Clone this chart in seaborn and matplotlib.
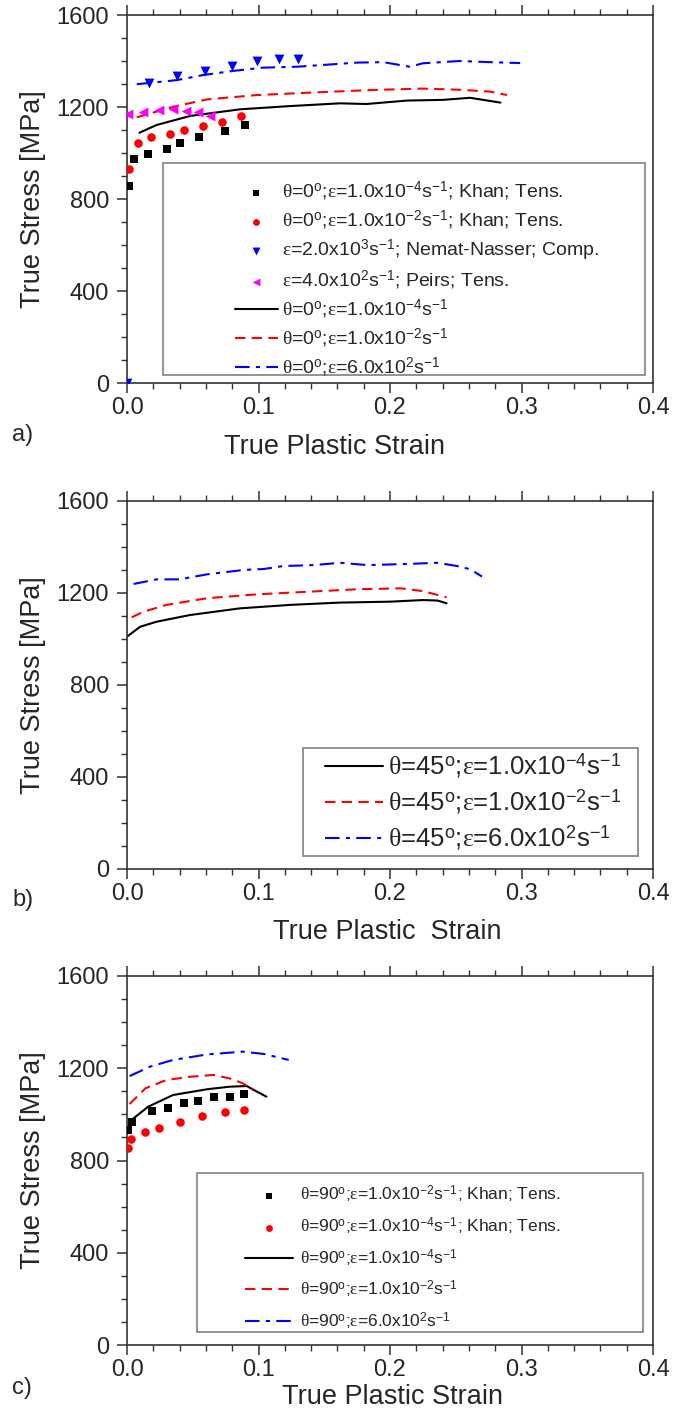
import matplotlib
matplotlib.use("Agg")
import matplotlib.pyplot as plt
from matplotlib.patches import Rectangle
from matplotlib.ticker import MultipleLocator, FormatStrFormatter
import seaborn as sns

# ---------------- Panel a data (theta = 0 deg) ----------------
a_khan4_strain = [0.0018, 0.0056, 0.0157, 0.0307, 0.040, 0.055, 0.0745, 0.090]
a_khan4_stress = [857, 973, 996, 1016, 1042, 1068, 1096, 1120]
a_khan2_strain = [0.0015, 0.008, 0.018, 0.033, 0.043, 0.058, 0.0725, 0.087]
a_khan2_stress = [929, 1045, 1068, 1081, 1100, 1117, 1136, 1161]
a_nemat_strain = [0.0, 0.017, 0.038, 0.059, 0.080, 0.099, 0.1156, 0.130]
a_nemat_stress = [0, 1303, 1335, 1358, 1380, 1401, 1407, 1407]
a_peirs_strain = [0.001, 0.0124, 0.0246, 0.035, 0.045, 0.054, 0.063]
a_peirs_stress = [1168, 1180, 1187, 1190, 1183, 1180, 1161]
a_sim4_strain = [0.0094, 0.0226, 0.048, 0.086, 0.124, 0.162, 0.182, 0.213, 0.240, 0.261, 0.284]
a_sim4_stress = [1088, 1122, 1161, 1190, 1204, 1216, 1213, 1228, 1231, 1240, 1219]
a_sim2_strain = [0.0074, 0.035, 0.061, 0.099, 0.137, 0.187, 0.225, 0.253, 0.276, 0.289]
a_sim2_stress = [1155, 1201, 1233, 1252, 1262, 1274, 1280, 1275, 1267, 1252]
a_sim6_strain = [0.0074, 0.038, 0.058, 0.081, 0.103, 0.129, 0.175, 0.195, 0.215, 0.225, 0.253, 0.276, 0.299]
a_sim6_stress = [1299, 1317, 1339, 1357, 1371, 1375, 1393, 1395, 1375, 1390, 1400, 1395, 1391]

# ---------------- Panel b data (theta = 45 deg) ----------------
b_sim4_strain = [0.0, 0.010, 0.0226, 0.048, 0.086, 0.124, 0.162, 0.200, 0.225, 0.236, 0.243]
b_sim4_stress = [1009, 1052, 1074, 1103, 1132, 1147, 1157, 1161, 1168, 1166, 1154]
b_sim2_strain = [0.0036, 0.0124, 0.030, 0.061, 0.099, 0.137, 0.175, 0.208, 0.225, 0.243]
b_sim2_stress = [1093, 1117, 1147, 1176, 1193, 1204, 1215, 1219, 1207, 1180]
b_sim6_strain = [0.005, 0.0226, 0.040, 0.061, 0.089, 0.104, 0.119, 0.142, 0.162, 0.183, 0.213, 0.236, 0.251, 0.261, 0.270]
b_sim6_stress = [1238, 1258, 1258, 1280, 1299, 1303, 1316, 1320, 1330, 1320, 1325, 1330, 1316, 1302, 1270]

# ---------------- Panel c data (theta = 90 deg) ----------------
c_khan2_strain = [0.0005, 0.004, 0.019, 0.031, 0.043, 0.054, 0.066, 0.078, 0.089]
c_khan2_stress = [932, 968, 1015, 1029, 1048, 1058, 1077, 1077, 1088]
c_khan4_strain = [0.001, 0.003, 0.0135, 0.0245, 0.040, 0.057, 0.0745, 0.089]
c_khan4_stress = [853, 892, 922, 942, 968, 993, 1009, 1019]
c_sim4_strain = [0.005, 0.016, 0.035, 0.061, 0.078, 0.091, 0.099, 0.106]
c_sim4_stress = [983, 1033, 1084, 1109, 1120, 1123, 1098, 1077]
c_sim2_strain = [0.002, 0.014, 0.030, 0.048, 0.066, 0.078, 0.088, 0.096]
c_sim2_stress = [1045, 1113, 1149, 1163, 1171, 1156, 1135, 1106]
c_sim6_strain = [0.002, 0.0175, 0.035, 0.061, 0.088, 0.104, 0.123]
c_sim6_stress = [1166, 1207, 1236, 1260, 1272, 1262, 1236]

x_ticks = [0.0, 0.1, 0.2, 0.3, 0.4]
y_ticks = [0, 400, 800, 1200, 1600]

# ---------------- labels ----------------
def lab(theta, rate_mant, rate_exp, extra=""):
    s = ""
    if theta is not None:
        s += r"$\theta$=" + theta + r"$^{\mathrm{o}}$;"
    s += r"$\varepsilon$=" + rate_mant + "x10" + r"$^{" + rate_exp + r"}$s$^{-1}$" + extra
    return s

a_labels = [lab("0", "1.0", "-4", "; Khan; Tens."),
            lab("0", "1.0", "-2", "; Khan; Tens."),
            lab(None, "2.0", "3", "; Nemat-Nasser; Comp."),
            lab(None, "4.0", "2", "; Peirs; Tens."),
            lab("0", "1.0", "-4"),
            lab("0", "1.0", "-2"),
            lab("0", "6.0", "2")]
b_labels = [lab("45", "1.0", "-4"), lab("45", "1.0", "-2"), lab("45", "6.0", "2")]
c_labels = [lab("90", "1.0", "-2", "; Khan; Tens."),
            lab("90", "1.0", "-4", "; Khan; Tens."),
            lab("90", "1.0", "-4"), lab("90", "1.0", "-2"), lab("90", "6.0", "2")]

# ---------------- style ----------------
sns.set_style("ticks")
plt.rcParams["font.family"] = ["Liberation Sans", "DejaVu Sans"]
plt.rcParams["mathtext.fontset"] = "custom"
plt.rcParams["mathtext.rm"] = "Liberation Sans"
plt.rcParams["mathtext.it"] = "Liberation Serif"
plt.rcParams["mathtext.bf"] = "Liberation Sans:bold"

BLACK, RED, BLUE, MAG = "#000000", "#FF0000", "#0000FF", "#FF00FF"
DASH = (0, (5, 3))
DASHDOT = (0, (7, 3, 2, 3))
TICK_FS = 17
LABEL_FS = 19.5

fig = plt.figure(figsize=(6.97, 14.21), dpi=100)
W = 1421.0
left, width = 127 / 697, 526 / 697


def make_ax(top_px, bot_px):
    return fig.add_axes([left, 1 - bot_px / W, width, (bot_px - top_px) / W])


def style_axes(ax, xlabel, xlab_pos, ylab_x):
    ax.set_xlim(0, 0.4)
    ax.set_ylim(0, 1600)
    ax.set_xticks(x_ticks)
    ax.set_yticks(y_ticks)
    ax.xaxis.set_minor_locator(MultipleLocator(0.02))
    ax.yaxis.set_minor_locator(MultipleLocator(100))
    ax.xaxis.set_major_formatter(FormatStrFormatter("%.1f"))
    ax.yaxis.set_major_formatter(FormatStrFormatter("%d"))
    ax.tick_params(which="both", direction="out", top=True, right=False,
                   labelsize=TICK_FS, color="#333333")
    ax.tick_params(which="major", length=7, width=1.1)
    ax.tick_params(which="minor", length=4, width=1.0)
    ax.tick_params(axis="y", pad=6)
    ax.tick_params(axis="x", pad=3)
    for s in ax.spines.values():
        s.set_visible(True)
        s.set_color("#333333")
        s.set_linewidth(1.2)
    ax.set_xlabel(xlabel, fontsize=LABEL_FS)
    ax.set_ylabel("True Stress [MPa]", fontsize=LABEL_FS)
    ax.xaxis.label.set_va("center")
    ax.xaxis.set_label_coords(*xlab_pos)
    ax.yaxis.label.set_va("center")
    ax.yaxis.set_label_coords(ylab_x, 0.5)


def box(ax, x0, y0, x1, y1):
    ax.add_patch(Rectangle((x0, y0), x1 - x0, y1 - y0, transform=ax.transAxes,
                           fill=False, edgecolor="#8a8a8a", linewidth=1.3,
                           zorder=5, clip_on=False))


def line(ax, x, y, color, ls, label):
    sns.lineplot(x=x, y=y, color=color, linestyle=ls, linewidth=1.5,
                 sort=False, estimator=None, label=label, ax=ax)


def pts(ax, x, y, color, marker, size, label):
    sns.scatterplot(x=x, y=y, color=color, marker=marker, s=size,
                    linewidth=0, label=label, ax=ax, zorder=4)


# ---------------- Panel a ----------------
axa = make_ax(15, 383)
pts(axa, a_khan4_strain, a_khan4_stress, BLACK, "s", 28, a_labels[0])
pts(axa, a_khan2_strain, a_khan2_stress, RED, "o", 38, a_labels[1])
pts(axa, a_nemat_strain, a_nemat_stress, BLUE, "v", 50, a_labels[2])
pts(axa, a_peirs_strain, a_peirs_stress, MAG, "<", 50, a_labels[3])
line(axa, a_sim4_strain, a_sim4_stress, BLACK, "-", a_labels[4])
line(axa, a_sim2_strain, a_sim2_stress, RED, DASH, a_labels[5])
line(axa, a_sim6_strain, a_sim6_stress, BLUE, DASHDOT, a_labels[6])
style_axes(axa, "True Plastic Strain", (0.395, -0.174), -0.178)
h, l = axa.get_legend_handles_labels()
order = [l.index(t) for t in a_labels]
axa.legend([h[i] for i in order], [l[i] for i in order], loc="upper left",
           bbox_to_anchor=(0.205, 0.552), frameon=False, fontsize=14,
           borderpad=0, borderaxespad=0, handlelength=2.2, handletextpad=0.25,
           labelspacing=0.3, scatterpoints=1, markerscale=0.8)
box(axa, 0.068, 0.022, 0.985, 0.598)

# ---------------- Panel b ----------------
axb = make_ax(500.7, 868.7)
line(axb, b_sim4_strain, b_sim4_stress, BLACK, "-", b_labels[0])
line(axb, b_sim2_strain, b_sim2_stress, RED, DASH, b_labels[1])
line(axb, b_sim6_strain, b_sim6_stress, BLUE, DASHDOT, b_labels[2])
style_axes(axb, "True Plastic  Strain", (0.494, -0.172), -0.178)
h, l = axb.get_legend_handles_labels()
axb.legend(h, l, loc="upper left", bbox_to_anchor=(0.376, 0.318), frameon=False,
           fontsize=18.5, borderpad=0, borderaxespad=0, handlelength=2.25,
           handletextpad=0.2, labelspacing=0.28)
box(axb, 0.335, 0.0345, 0.971, 0.328)

# ---------------- Panel c ----------------
axc = make_ax(976, 1345)
pts(axc, c_khan2_strain, c_khan2_stress, BLACK, "s", 28, c_labels[0])
pts(axc, c_khan4_strain, c_khan4_stress, RED, "o", 38, c_labels[1])
line(axc, c_sim4_strain, c_sim4_stress, BLACK, "-", c_labels[2])
line(axc, c_sim2_strain, c_sim2_stress, RED, DASH, c_labels[3])
line(axc, c_sim6_strain, c_sim6_stress, BLUE, DASHDOT, c_labels[4])
style_axes(axc, "True Plastic Strain", (0.504, -0.14), -0.178)
h, l = axc.get_legend_handles_labels()
order = [l.index(t) for t in c_labels]
axc.legend([h[i] for i in order], [l[i] for i in order], loc="upper left",
           bbox_to_anchor=(0.224, 0.436), frameon=False, fontsize=12.5,
           borderpad=0, borderaxespad=0, handlelength=2.75, handletextpad=0.45,
           labelspacing=0.6, scatterpoints=1, markerscale=0.8)
box(axc, 0.133, 0.035, 0.981, 0.466)

# panel letters
for txt, ypx in [("a)", 435), ("b)", 900), ("c)", 1388)]:
    fig.text(12 / 697, 1 - ypx / W, txt, fontsize=17, va="center", ha="left")

fig.savefig("out.png", dpi=100)
